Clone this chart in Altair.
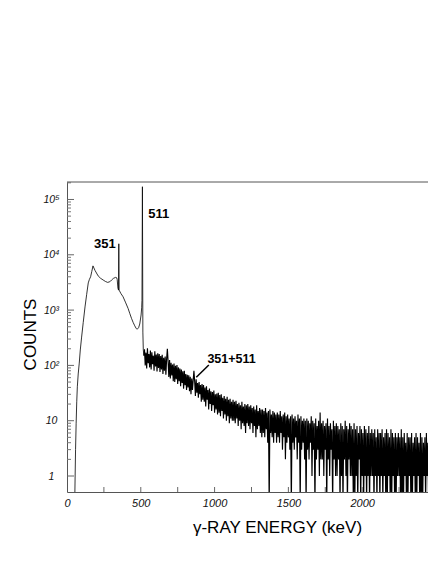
import altair as alt
import pandas as pd

# ---- smooth low-energy part of the spectrum (keV, counts) ----
low_energy = [40, 52, 58, 62, 66, 70, 76, 83, 90, 99, 110, 122, 133, 144, 152, 160, 168, 176,
              190, 211, 228, 245, 260, 275, 290, 302, 315, 329, 336, 340, 345, 349, 351, 353,
              365, 380, 398, 414, 426, 437, 448, 459, 468, 475, 485, 493, 502, 506, 508, 511,
              514, 517, 521]
low_counts = [0, 0, 3, 9, 22, 41, 70, 110, 190, 325, 600, 1140, 1900, 3100, 3600, 4000, 5000, 6300,
              5200, 4150, 3750, 3500, 3300, 3170, 3250, 3500, 3750, 3900, 3850, 3600, 2500, 2300, 15800, 2300,
              2000, 1740, 1350, 1070, 860, 710, 600, 520, 470, 450, 480, 560, 815, 1100, 1500, 170000,
              400, 190, 150]

# ---- noisy part: counts every 5 keV starting at 525 keV ----
noise_start = 525
noise_step = 5
noise_counts = [
    195, 100, 170, 88, 205, 110, 160, 92, 185, 84, 172, 105, 150, 80, 180, 96, 158, 78, 165, 90,
    160, 76, 148, 84, 155, 70, 138, 80, 145, 68, 130, 200, 118, 62, 125, 58, 112, 66, 104, 52,
    108, 50, 98, 56, 102, 46, 92, 52, 88, 42, 84, 48, 78, 38, 80, 44, 70, 36, 68, 40,
    66, 34, 62, 30, 58, 36, 54, 80, 52, 28, 56, 32, 48, 26, 50, 30, 44, 22, 46, 24,
    44, 22, 40, 18, 42, 24, 36, 16, 38, 20, 34, 15, 33, 19, 35, 14, 30, 16, 31, 13,
    32, 14, 29, 12, 30, 15, 26, 11, 28, 13, 25, 10, 27, 12, 24, 9, 25, 11, 22, 10,
    24, 10, 22, 9, 23, 11, 20, 8, 21, 10, 19, 7, 22, 9, 18, 8, 20, 6, 19, 9,
    20, 8, 18, 7, 19, 9, 17, 6, 18, 8, 16, 5, 19, 7, 15, 8, 17, 6, 16, 5,
    16, 6, 15, 5, 17, 7, 14, 4, 15, 0, 16, 6, 13, 5, 15, 4, 14, 6, 13, 4,
    14, 5, 13, 4, 15, 6, 12, 3, 13, 5, 14, 2, 12, 4, 13, 5, 11, 3, 12, 0,
    13, 4, 11, 3, 12, 5, 10, 2, 13, 4, 11, 0, 12, 3, 10, 4, 11, 2, 10, 0,
    11, 3, 10, 2, 9, 4, 12, 1, 10, 3, 9, 0, 11, 2, 8, 3, 10, 1, 14, 2,
    9, 2, 10, 1, 8, 3, 9, 0, 11, 2, 8, 1, 9, 3, 7, 0, 10, 2, 8, 1,
    9, 1, 8, 2, 7, 0, 9, 1, 8, 0, 7, 2, 10, 1, 8, 0, 7, 2, 9, 1,
    8, 1, 7, 0, 9, 0, 7, 1, 8, 0, 6, 2, 8, 0, 7, 1, 6, 0, 8, 1,
    7, 0, 6, 1, 8, 0, 6, 1, 7, 1, 6, 0, 7, 1, 5, 0, 7, 1, 6, 0,
    6, 1, 7, 0, 5, 1, 6, 0, 7, 0, 6, 1, 5, 0, 7, 0, 6, 1, 5, 0,
    6, 0, 5, 1, 6, 1, 5, 0, 7, 0, 5, 0, 6, 1, 4, 0, 6, 0, 5, 1,
    5, 0, 6, 0, 4, 1, 5, 0, 6, 0, 5, 1, 4, 0, 6, 0, 5, 0, 4, 1,
    5, 0, 6, 1, 4, 0, 5, 1, 6, 0, 4, 0, 5, 1,
]

# ---- axis ticks and labels ----
x_label_values = [0, 500, 1000, 1500, 2000]
x_tick_values = [250, 500, 750, 1000, 1250, 1500, 1750, 2000, 2250]
y_major_values = [1, 10, 100, 1000, 10000, 100000]
y_minor_values = [2, 3, 4, 5, 6, 7, 8, 9,
                  20, 30, 40, 50, 60, 70, 80, 90,
                  200, 300, 400, 500, 600, 700, 800, 900,
                  2000, 3000, 4000, 5000, 6000, 7000, 8000, 9000,
                  20000, 30000, 40000, 50000, 60000, 70000, 80000, 90000,
                  200000]

# ---- annotations ----
ann_text = ["351", "511", "351+511"]
ann_E = [257, 622, 1115]
ann_C = [15700, 55000, 133]
ann_size = [13, 13, 12.5]
leader_E = [876, 961]
leader_C = [61, 102]

W, H = 361, 310
FLOOR = 0.3

smooth = pd.DataFrame({"E": low_energy, "C": [c if c > 0 else FLOOR for c in low_counts]})
noise_E = [low_energy[-1]] + [noise_start + i * noise_step for i in range(len(noise_counts))]
noise_C = [low_counts[-1]] + noise_counts
noise = pd.DataFrame({"E": noise_E, "C": [c if c > 0 else FLOOR for c in noise_C]})

xscale = alt.Scale(domain=[0, 2446], nice=False, zero=False)
yscale = alt.Scale(type="log", domain=[0.514, 207000], nice=False)

label_expr = ("datum.value == 1 ? '1' : datum.value == 10 ? '10' : datum.value == 100 ? '10²' : "
              "datum.value == 1000 ? '10³' : datum.value == 10000 ? '10⁴' : '10⁵'")

line = alt.Chart(smooth).mark_line(color="black", strokeWidth=0.8, clip=True).encode(
    x=alt.X("E:Q", scale=xscale, axis=alt.Axis(
        values=x_label_values, format="d", title="γ-RAY ENERGY (keV)",
        labelFont="Liberation Sans", labelFontStyle="italic", labelFontSize=11, labelColor="#111",
        labelPadding=5, ticks=False, tickSize=0, domainColor="#555", grid=False,
        titleFont="Liberation Sans", titleFontSize=17, titleFontWeight="normal", titleColor="black",
        titleX=210, titleY=35, titleBaseline="middle", titleAlign="center", labelFlush=False)),
    y=alt.Y("C:Q", scale=yscale, axis=alt.Axis(
        values=y_major_values, labelExpr=label_expr, title="COUNTS",
        labelFont="Liberation Sans", labelFontStyle="italic", labelFontSize=10.5, labelColor="#111",
        labelAlign="center", labelBaseline="middle", labelPadding=16, ticks=False, tickSize=0,
        domainColor="#555", grid=False,
        titleFont="Liberation Sans", titleFontSize=17, titleFontWeight="normal", titleColor="black",
        titleX=-37, titleY=152, titleAngle=270, titleBaseline="middle", titleAlign="center")),
    order="E:Q",
)

noise_line = alt.Chart(noise).mark_line(color="black", strokeWidth=1.15, clip=True).encode(
    x=alt.X("E:Q", scale=xscale), y=alt.Y("C:Q", scale=yscale), order="E:Q")

xt = alt.Chart(pd.DataFrame({"E": x_tick_values})).mark_rule(color="#666", strokeWidth=1).encode(
    x=alt.X("E:Q", scale=xscale), y=alt.value(H), y2=alt.value(H - 5))

ymaj = alt.Chart(pd.DataFrame({"C": y_major_values})).mark_rule(color="#666", strokeWidth=1).encode(
    y=alt.Y("C:Q", scale=yscale), x=alt.value(0), x2=alt.value(7))

ymin = alt.Chart(pd.DataFrame({"C": y_minor_values})).mark_rule(color="#777", strokeWidth=1).encode(
    y=alt.Y("C:Q", scale=yscale), x=alt.value(0), x2=alt.value(4))

top = alt.Chart(pd.DataFrame({"a": [0]})).mark_rule(color="#555", strokeWidth=1).encode(
    x=alt.value(0), x2=alt.value(W), y=alt.value(0))

ann = alt.Chart(pd.DataFrame({"t": ann_text, "E": ann_E, "C": ann_C, "s": ann_size})).mark_text(
    font="Liberation Sans", fontWeight="bold", color="black", align="center", baseline="middle"
).encode(
    x=alt.X("E:Q", scale=xscale),
    y=alt.Y("C:Q", scale=yscale),
    text="t:N",
    size=alt.Size("s:Q", scale=None, legend=None),
)

leader = alt.Chart(pd.DataFrame({"E": leader_E, "C": leader_C})).mark_line(
    color="black", strokeWidth=1.5).encode(
    x=alt.X("E:Q", scale=xscale),
    y=alt.Y("C:Q", scale=yscale))

chart = alt.layer(line, noise_line, xt, ymaj, ymin, top, ann, leader).properties(
    width=W, height=H,
    autosize=alt.AutoSizeParams(type="none"),
    padding={"left": 59, "top": 174, "right": 0, "bottom": 44},
).configure_view(stroke=None)

chart.save("out.html", embed_options={"renderer": "svg", "actions": False})
